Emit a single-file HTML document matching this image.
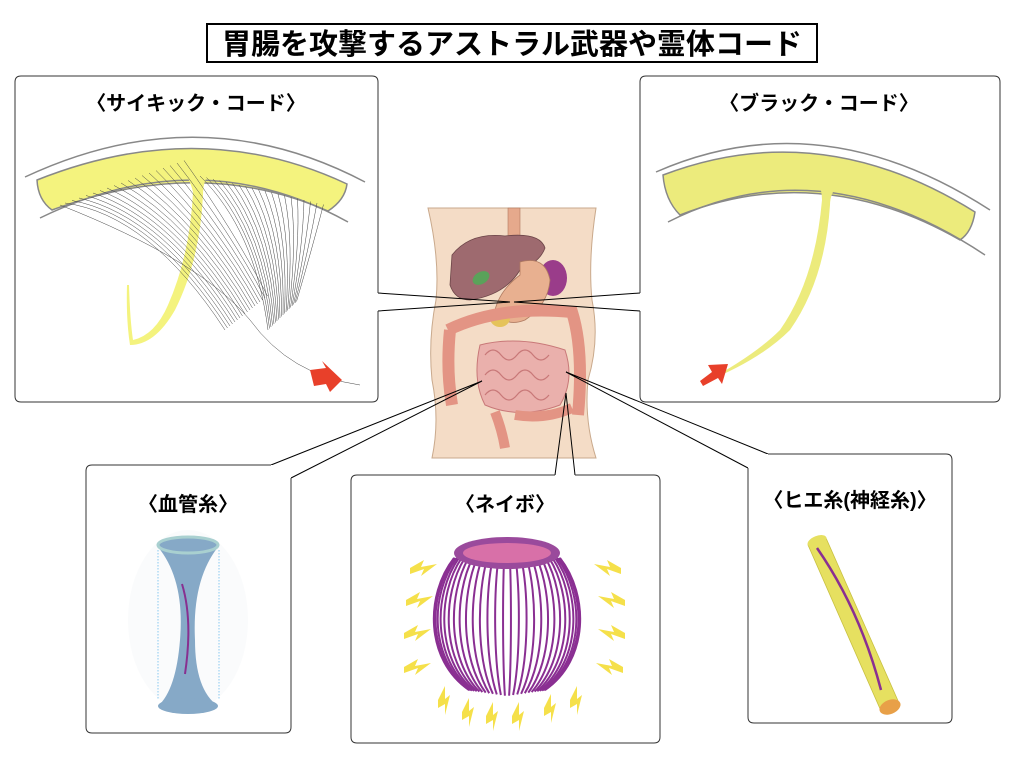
<!DOCTYPE html>
<html><head><meta charset="utf-8"><style>
body{margin:0;background:#fff;width:1024px;height:768px;overflow:hidden;font-family:"Liberation Sans","Noto Sans CJK JP",sans-serif}
svg{position:absolute;left:0;top:0}
text{font-family:"Liberation Sans","Noto Sans CJK JP",sans-serif;font-weight:bold}
</style></head><body>
<svg id="s" width="1024" height="768" viewBox="0 0 1024 768">
<rect x="207" y="24" width="610" height="38" fill="#fff" stroke="#000" stroke-width="2"/>
<text x="512" y="54" font-size="29" text-anchor="middle">胃腸を攻撃するアストラル武器や霊体コード</text>

<!-- body illustration -->
<g>
<path d="M428,208 L596,208 Q588,260 592,300 Q600,340 588,380 Q584,420 596,458 L432,458 Q440,420 432,380 Q428,340 436,300 Q440,260 428,208Z" fill="#f4dcc6" stroke="#c9a98c" stroke-width="1"/>
<rect x="508" y="208" width="12" height="30" fill="#e6a98c" stroke="#b07a60" stroke-width="0.6"/>
<path d="M452,255 Q470,232 505,236 Q540,232 545,248 Q540,262 520,270 Q505,295 470,300 Q455,300 450,285Z" fill="#9e6a6f" stroke="#6c4548" stroke-width="0.8"/>
<ellipse cx="481" cy="278" rx="9" ry="6" fill="#5aa25a" transform="rotate(-30 481 278)"/>
<ellipse cx="553" cy="278" rx="14" ry="18" fill="#9a3c8a"/>
<path d="M520,262 Q545,255 550,280 Q548,305 525,320 Q505,328 495,310 Q500,290 520,275Z" fill="#e8b090" stroke="#b07a60" stroke-width="0.8"/>
<ellipse cx="500" cy="318" rx="10" ry="9" fill="#e5c35a"/>
<path d="M448,330 Q500,305 572,312 Q584,350 578,415" fill="none" stroke="#e39484" stroke-width="12"/>
<path d="M450,330 Q446,370 452,405" fill="none" stroke="#e39484" stroke-width="12"/>
<path d="M480,345 Q520,335 565,350 Q575,380 560,405 Q520,420 485,405 Q472,380 480,345Z" fill="#eab0ac" stroke="#c87878" stroke-width="1"/>
<path d="M485,355 q8,-10 16,0 q8,10 16,0 q8,-10 16,0 q8,10 16,0 M485,375 q8,-10 16,0 q8,10 16,0 q8,-10 16,0 q8,10 16,0 M485,395 q8,-10 16,0 q8,10 16,0 q8,-10 16,0 q8,10 16,0" fill="none" stroke="#c87878" stroke-width="1.2"/>
<path d="M495,412 Q502,430 505,448 M515,415 Q545,420 572,408" fill="none" stroke="#e39484" stroke-width="10"/>
</g>

<!-- connectors -->
<g stroke="#000" stroke-width="1" fill="none">
<path d="M378,293 L510,302 L378,311"/>
<path d="M640,293 L514,302 L640,311"/>
<path d="M271,465 L482,381 L291,478"/>
<path d="M555,475 L566,393 L575,475"/>
<path d="M768,454 L566,372 L748,468"/>
</g>

<!-- box fills -->
<g fill="#fff">
<rect x="15" y="76" width="363" height="326" rx="6"/>
<rect x="640" y="76" width="360" height="326" rx="6"/>
<rect x="86" y="465" width="205" height="268" rx="6"/>
<rect x="351" y="475" width="309" height="268" rx="6"/>
<rect x="748" y="454" width="204" height="269" rx="6"/>
</g>
<g fill="none" stroke="#333" stroke-width="1">
<path d="M378,293 V82 Q378,76 372,76 H21 Q15,76 15,82 V396 Q15,402 21,402 H372 Q378,402 378,396 V311"/>
<path d="M640,293 V82 Q640,76 646,76 H994 Q1000,76 1000,82 V396 Q1000,402 994,402 H646 Q640,402 640,396 V311"/>
<path d="M271,465 H92 Q86,465 86,471 V727 Q86,733 92,733 H285 Q291,733 291,727 V478"/>
<path d="M555,475 H357 Q351,475 351,481 V737 Q351,743 357,743 H654 Q660,743 660,737 V481 Q660,475 654,475 H575"/>
<path d="M768,454 H946 Q952,454 952,460 V717 Q952,723 946,723 H754 Q748,723 748,717 V468"/>
</g>

<!-- box 1 -->
<text x="196" y="110" font-size="20" text-anchor="middle">〈サイキック・コード〉</text>
<path d="M37,180 Q200,115 347,184 Q345,200 328,211 Q200,155 52,210 Q38,200 37,180Z" fill="#f4f37e" stroke="#888" stroke-width="1.5"/>
<path d="M25,177 Q200,95 365,182" fill="none" stroke="#888" stroke-width="1.5"/>
<path d="M40,218 Q200,140 348,222" fill="none" stroke="#888" stroke-width="1.5"/>
<path d="M185,173 L210,173 Q203,180 203,195 Q200,260 175,310 Q155,345 130,345 Q126,320 127,285 L129,285 Q130,320 133,340 Q155,335 168,305 Q190,255 193,192 Q190,180 185,173Z" fill="#f4f37e"/>
<g id="fib1" fill="none" stroke="#444" stroke-width="0.5"></g>
<path d="M310,370 L326,368 L322,361 L342,380 L330,392 L326,384 L314,386Z" fill="#e8402a"/>

<!-- box 2 -->
<text x="819" y="110" font-size="20" text-anchor="middle">〈ブラック・コード〉</text>
<path d="M663,175 Q820,115 975,212 Q972,232 960,240 Q820,160 680,215 Q665,200 663,175Z" fill="#eceb7c" stroke="#888" stroke-width="1.5"/>
<path d="M656,172 Q820,100 990,210" fill="none" stroke="#888" stroke-width="1.5"/>
<path d="M668,222 Q820,145 985,255" fill="none" stroke="#888" stroke-width="1.5"/>
<path d="M818,183 L840,183 Q830,192 830,205 Q825,280 790,330 Q760,360 705,382 Q755,355 780,330 Q815,280 822,200 Q822,190 818,183Z" fill="#eceb7c"/>
<path d="M700,381 L712,372 L708,365 L728,364 L722,384 L718,378 L703,386Z" fill="#e8402a"/>

<!-- box 3 -->
<text x="188" y="511" font-size="20" text-anchor="middle">〈血管糸〉</text>
<ellipse cx="188" cy="620" rx="60" ry="90" fill="#fafbfc"/>
<path d="M158,547 Q185,580 180,640 Q176,690 158,706 L218,706 Q195,690 195,640 Q192,580 218,547Z" fill="#86a9c7"/>
<ellipse cx="188" cy="706" rx="30" ry="8" fill="#86a9c7"/>
<ellipse cx="188" cy="545" rx="30" ry="8" fill="#86a9c7" stroke="#a9d0d0" stroke-width="3"/>
<line x1="158" y1="550" x2="158" y2="700" stroke="#88c8f0" stroke-dasharray="1.5,1.5"/>
<line x1="219" y1="550" x2="219" y2="700" stroke="#88c8f0" stroke-dasharray="1.5,1.5"/>
<path d="M182,584 Q193,620 185,674" fill="none" stroke="#883090" stroke-width="2"/>

<!-- box 4 -->
<text x="505" y="511" font-size="20" text-anchor="middle">〈ネイボ〉</text>
<g id="fib2" fill="none" stroke="#8a2f92" stroke-width="2"></g>
<ellipse cx="507" cy="553" rx="53" ry="16" fill="#9a4a9c"/>
<ellipse cx="507" cy="553" rx="44" ry="10" fill="#d870a8"/>
<g id="bolts" fill="#f5e04a"></g>

<!-- box 5 -->
<text x="850" y="507" font-size="20" text-anchor="middle">〈ヒエ糸(神経糸)〉</text>
<path d="M808,545 L826,538 L899,703 L881,711Z" fill="#e6e060" stroke="#c8c040" stroke-width="0.8"/>
<ellipse cx="817" cy="541" rx="10" ry="5" fill="#e6e060" transform="rotate(-22 817 541)"/>
<ellipse cx="890" cy="707" rx="11" ry="7" fill="#e8a048" transform="rotate(-22 890 707)"/>
<path d="M817,548 Q860,610 881,690" fill="none" stroke="#8a2f92" stroke-width="2.5"/>
</svg>
<script>
var NS="http://www.w3.org/2000/svg";
function P(g,d){var p=document.createElementNS(NS,"path");p.setAttribute("d",d);document.getElementById(g).appendChild(p);}
for(var i=0;i<18;i++){var sx=65+i*7,sy=203-i*2.5;var ex=225+i*2.5,ey=330-i*2;P("fib1","M"+sx+","+sy+" Q"+(150+i*5)+","+(215+i)+" "+ex+","+ey);}
P("fib1","M60,205 Q200,260 250,320 Q290,375 360,385");
for(var i=0;i<20;i++){var sx=200+i*6.5;P("fib1","M"+sx+","+(176+i*1.5)+" Q"+(255+i*3)+","+(230+i)+" "+(268+i*1.5)+","+(330-i*1.5));}
for(var i=0;i<30;i++){var a=Math.PI*(i/29);var k=-Math.cos(a);var x0=507+53*k;var xb=507+k*82;var xe=507+k*38;P("fib2","M"+x0.toFixed(1)+",558 C"+xb.toFixed(1)+",595 "+xb.toFixed(1)+",660 "+xe.toFixed(1)+","+(690+(1-Math.abs(k))*6).toFixed(1));}
var b=[[410,568,0],[406,600,0],[404,633,0],[404,667,0],[593,568,1],[597,600,1],[597,633,1],[595,667,1],[438,700,2],[462,712,2],[486,716,2],[512,716,2],[544,708,2],[570,700,2]];
b.forEach(function(t){var x=t[0],y=t[1],d;if(t[2]==0)d="M"+x+","+y+" l14,-8 l-3,7 l16,-3 l-16,12 l3,-7 l-14,5z";else if(t[2]==1)d="M"+(x+28)+","+y+" l-14,-8 l3,7 l-16,-3 l16,12 l-3,-7 l14,5z";else d="M"+x+","+y+" l7,-14 l0,13 l5,-4 l-5,20 l0,-11 l-7,4z";P("bolts",d);});
</script>
</body></html>
